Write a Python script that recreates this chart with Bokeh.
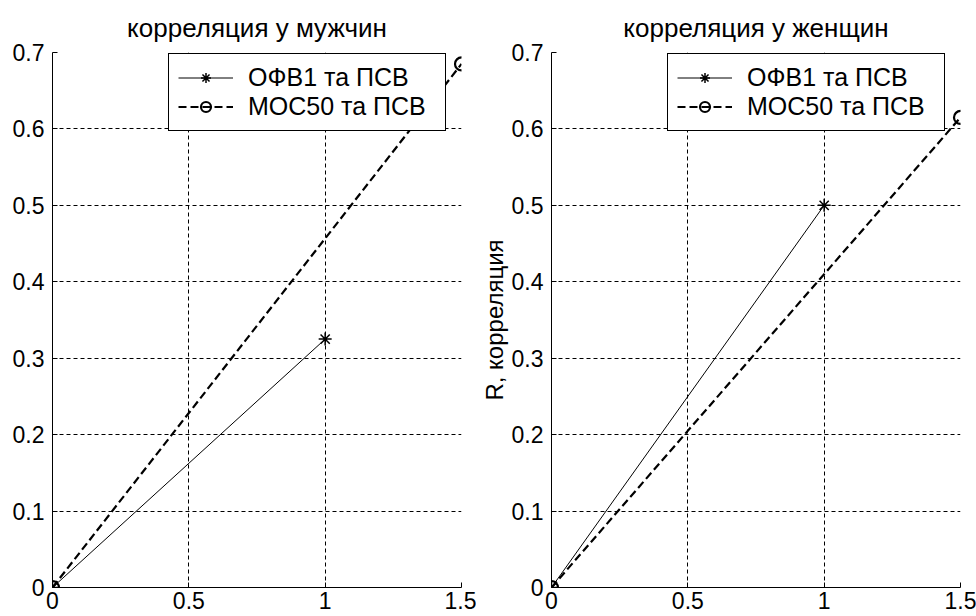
from bokeh.plotting import figure
from bokeh.layouts import row
from bokeh.models import FixedTicker, Range1d, Legend, LegendItem
from bokeh.embed import file_html
from bokeh.resources import INLINE

# ---- data ----
x_ofv = [0, 1]
x_mos = [0, 1.5]
men_ofv = [0, 0.325]
men_mos = [0, 0.685]
women_ofv = [0, 0.5]
women_mos = [0, 0.615]

titles = ["корреляция у мужчин", "корреляция у женщин"]
series_labels = ["ОФВ1 та ПСВ", "МОС50 та ПСВ"]
y_axis_label = "R, корреляция"

x_ticks = [0, 0.5, 1, 1.5]
x_tick_labels = ["0", "0.5", "1", "1.5"]
y_ticks = [0, 0.1, 0.2, 0.3, 0.4, 0.5, 0.6, 0.7]
y_tick_labels = ["0", "0.1", "0.2", "0.3", "0.4", "0.5", "0.6", "0.7"]

FONT = "Liberation Sans"
H = 616
TOP = 52
BOTTOM = 29


def make(title, ofv, mos, width, left, right, ylabel=None):
    p = figure(width=width, height=H, x_range=Range1d(0, 1.5), y_range=Range1d(0, 0.7),
               output_backend="svg", toolbar_location=None,
               min_border_left=left, min_border_right=right,
               min_border_top=TOP, min_border_bottom=BOTTOM)
    p.outline_line_color = None
    p.background_fill_color = "white"
    p.border_fill_color = "white"

    p.title.text = title
    p.title.align = "center"
    p.title.text_font = FONT
    p.title.text_font_size = "26px"
    p.title.text_font_style = "normal"
    p.title.text_color = "black"
    p.title.standoff = 19

    for ax in (p.xaxis[0], p.yaxis[0]):
        ax.axis_line_color = "black"
        ax.axis_line_width = 1
        ax.major_tick_in = 5
        ax.major_tick_out = 0
        ax.minor_tick_line_color = None
        ax.major_tick_line_color = "black"
        ax.major_label_text_font = FONT
        ax.major_label_text_font_size = "23px"
        ax.major_label_text_color = "black"
    p.xaxis[0].ticker = FixedTicker(ticks=x_ticks)
    p.yaxis[0].ticker = FixedTicker(ticks=y_ticks)
    p.xaxis[0].major_label_overrides = {float(t): l for t, l in zip(x_ticks, x_tick_labels)}
    p.yaxis[0].major_label_overrides = {float(t): l for t, l in zip(y_ticks, y_tick_labels)}
    p.xaxis[0].major_label_standoff = 4
    p.yaxis[0].major_label_standoff = 8
    if ylabel:
        p.yaxis[0].axis_label = ylabel
        p.yaxis[0].axis_label_text_font = FONT
        p.yaxis[0].axis_label_text_font_size = "24px"
        p.yaxis[0].axis_label_text_font_style = "normal"
        p.yaxis[0].axis_label_text_color = "black"
        p.yaxis[0].axis_label_standoff = 1

    for g, tk in ((p.xgrid[0], x_ticks), (p.ygrid[0], y_ticks)):
        g.ticker = FixedTicker(ticks=tk)
        g.grid_line_color = "black"
        g.grid_line_dash = "4 3"
        g.grid_line_width = 1
        g.grid_line_alpha = 1

    l1 = p.line(x_ofv, ofv, line_color="black", line_width=1)
    s1 = p.scatter(x_ofv, ofv, marker="asterisk", size=13, line_color="black", line_width=1.5)
    l2 = p.line(x_mos, mos, line_color="black", line_width=2.2, line_dash="8 4")
    s2 = p.scatter(x_mos, mos, marker="circle", size=13, line_color="black", line_width=2.2,
                   fill_color=None)

    frame_h = H - TOP - BOTTOM
    leg = Legend(items=[LegendItem(label=series_labels[0], renderers=[l1, s1]),
                        LegendItem(label=series_labels[1], renderers=[l2, s2])],
                 location=(116, frame_h - 11 - 68))
    leg.border_line_color = "black"
    leg.border_line_width = 1.3
    leg.border_line_alpha = 1
    leg.background_fill_color = "white"
    leg.background_fill_alpha = 1
    leg.label_text_font = FONT
    leg.label_text_font_size = "25px"
    leg.label_text_color = "black"
    leg.glyph_width = 55
    leg.glyph_height = 25
    leg.label_height = 25
    leg.label_width = 188
    leg.label_standoff = 15
    leg.padding = 9
    leg.spacing = 0
    leg.margin = 0
    p.add_layout(leg)
    return p


p1 = make(titles[0], men_ofv, men_mos, 476, 52, 15)
p2 = make(titles[1], women_ofv, women_mos, 500, 75, 16, ylabel=y_axis_label)

layout = row(p1, p2)
open("out.html", "w").write(file_html(layout, INLINE))
